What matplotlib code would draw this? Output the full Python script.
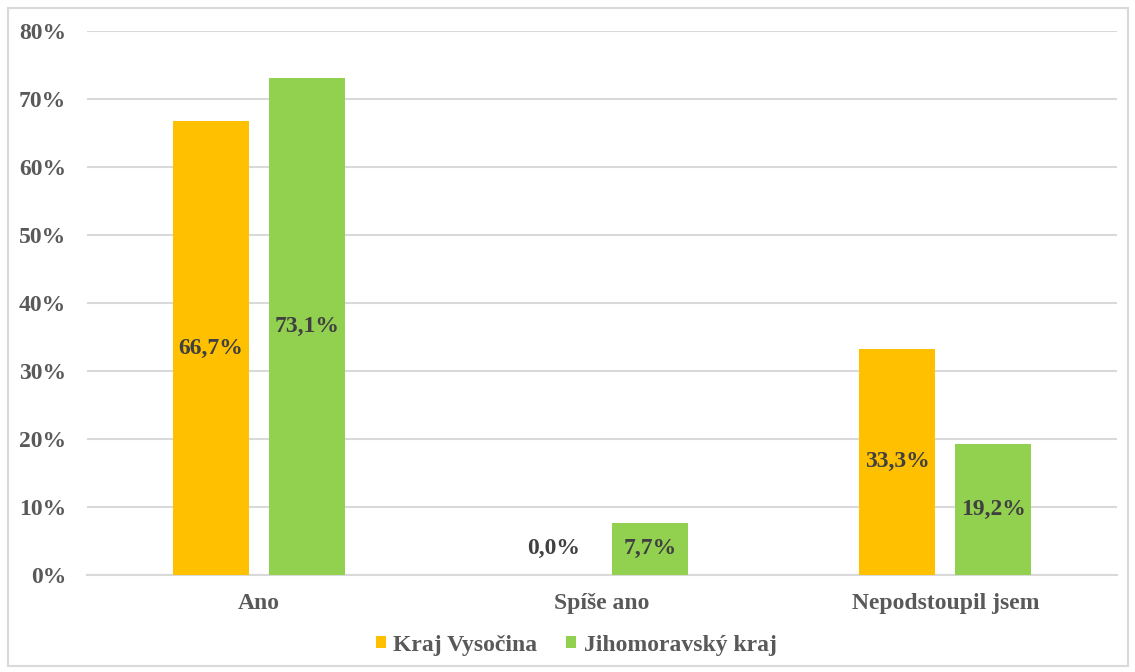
import matplotlib
matplotlib.use("Agg")
import matplotlib.pyplot as plt
from matplotlib.patches import Rectangle
import numpy as np

categories = ["Ano", "Spíše ano", "Nepodstoupil jsem"]
series_names = ["Kraj Vysočina", "Jihomoravský kraj"]
vysocina = [66.7, 0.0, 33.3]
jihomoravsky = [73.1, 7.7, 19.2]
colors = ["#FFC000", "#92D050"]
yticks = [0, 10, 20, 30, 40, 50, 60, 70, 80]

plt.rcParams['font.family'] = ['Liberation Serif', 'DejaVu Serif']
txt = "#595959"
fs = 17

fig = plt.figure(figsize=(11.35, 6.72), dpi=100)
ax = fig.add_axes([87/1135, 1 - 575/672, (1117-87)/1135, (575-31)/672])

x = np.arange(len(categories))
w = 0.221
off = 0.14
b1 = ax.bar(x - off, vysocina, w, color=colors[0], label=series_names[0], zorder=3)
b2 = ax.bar(x + off, jihomoravsky, w, color=colors[1], label=series_names[1], zorder=3)

min_label_y = jihomoravsky[1] / 2
for xi, v in zip(x - off, vysocina):
    yy = max(v / 2, min_label_y)
    ax.text(xi, yy, f"{v:.1f}%".replace(".", ","), ha="center", va="center",
            fontsize=fs, fontweight="bold", color="#404040", zorder=4)
for xi, v in zip(x + off, jihomoravsky):
    yy = v / 2
    ax.text(xi, yy, f"{v:.1f}%".replace(".", ","), ha="center", va="center",
            fontsize=fs, fontweight="bold", color="#404040", zorder=4)

ax.set_xlim(-0.5, 2.5)
ax.set_ylim(0, 80)
ax.set_yticks(yticks)
ax.set_yticklabels([f"{t}%" for t in yticks])
ax.set_xticks(x)
ax.set_xticklabels(categories)
ax.grid(axis="y", color="#D9D9D9", linewidth=1.5, zorder=0)
ax.set_axisbelow(True)
for s in ["top", "right", "left"]:
    ax.spines[s].set_visible(False)
ax.spines["bottom"].set_color("#D9D9D9")
ax.spines["bottom"].set_linewidth(1.5)
ax.tick_params(axis="both", length=0, colors=txt, labelsize=fs)
ax.tick_params(axis="y", pad=15)
ax.tick_params(axis="x", pad=13)
for lab in ax.get_xticklabels() + ax.get_yticklabels():
    lab.set_fontweight("bold")
    lab.set_color(txt)

leg = fig.legend(handles=[b1, b2], labels=series_names, loc="center",
                 bbox_to_anchor=(576/1135, 1 - 645/672), ncol=2, frameon=False,
                 handlelength=0.45, handleheight=0.45,
                 handletextpad=0.3, columnspacing=1.2, prop={'weight': 'bold', 'size': fs})
for t in leg.get_texts():
    t.set_color(txt)

fig.patches.append(Rectangle((8/1135, 6/672), (1128-8)/1135, (665-7)/672,
                             transform=fig.transFigure, fill=False,
                             edgecolor="#D9D9D9", linewidth=1.5))

fig.savefig("out.png", dpi=100, facecolor="white")
